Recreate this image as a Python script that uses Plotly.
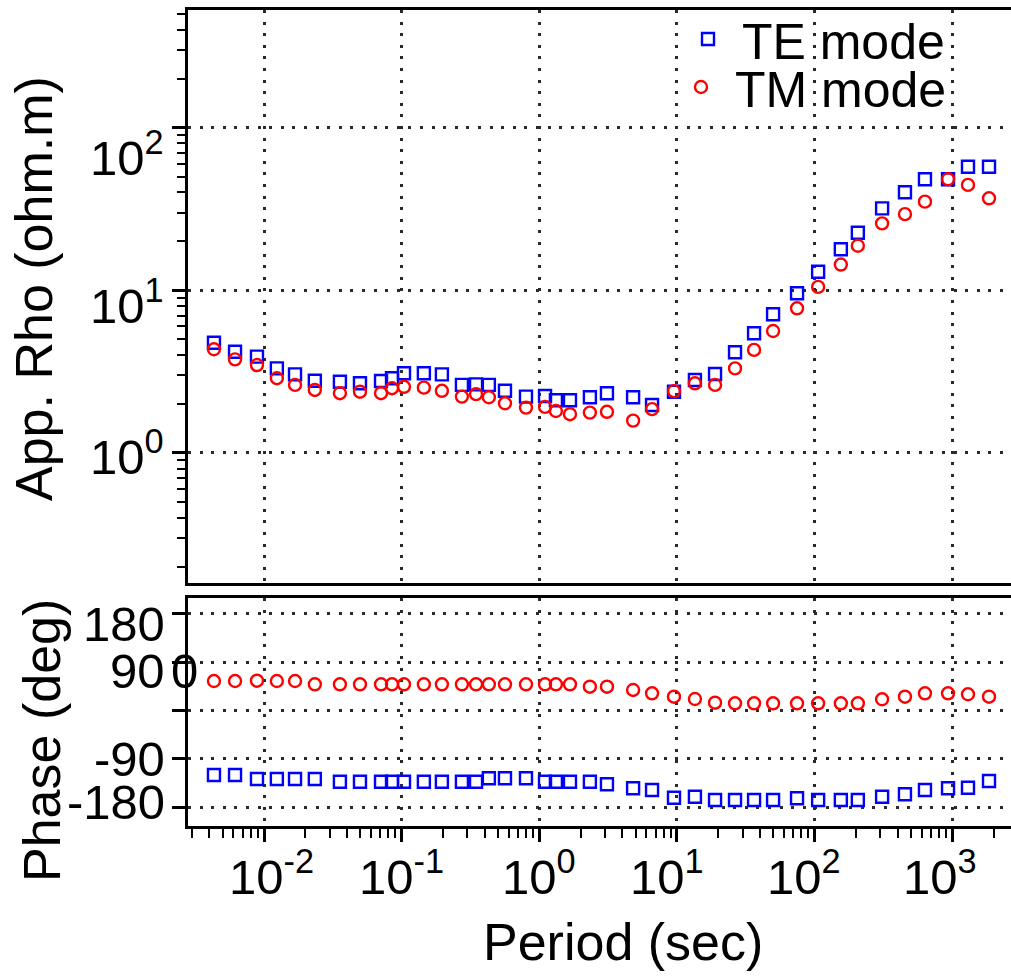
import math
import plotly.graph_objects as go

# ---------------- data ----------------
period = [0.00433, 0.00616, 0.00889, 0.0124, 0.0168, 0.0234, 0.0356, 0.0498, 0.0708, 0.0851,
          0.104, 0.145, 0.196, 0.274, 0.347, 0.430, 0.563, 0.800, 1.10, 1.32,
          1.67, 2.33, 3.10, 4.80, 6.59, 9.51, 13.5, 18.9, 26.4, 36.3,
          49.9, 74.5, 106, 155, 206, 309, 453, 633, 931, 1300, 1848]

rho_te = [4.76, 4.19, 3.91, 3.31, 3.04, 2.78, 2.74, 2.68, 2.77, 2.88,
          3.09, 3.09, 3.04, 2.62, 2.64, 2.62, 2.41, 2.22, 2.24, 2.11,
          2.11, 2.20, 2.33, 2.20, 1.97, 2.38, 2.81, 3.06, 4.16, 5.44,
          7.12, 9.59, 13.0, 17.9, 22.6, 31.9, 40.1, 48.2, 48.2, 57.5, 57.5]

rho_tm = [4.34, 3.76, 3.47, 2.88, 2.62, 2.44, 2.33, 2.38, 2.33, 2.50,
          2.55, 2.52, 2.41, 2.22, 2.30, 2.20, 2.02, 1.90, 1.92, 1.81,
          1.73, 1.77, 1.79, 1.58, 1.86, 2.40, 2.68, 2.62, 3.31, 4.30,
          5.62, 7.75, 10.5, 14.4, 18.8, 25.8, 29.4, 35.1, 48.2, 44.5, 36.8]

phase_te = [-120.1, -120.1, -127.6, -127.6, -127.6, -127.6, -132.6, -132.6, -132.6, -132.6,
            -132.6, -132.6, -132.6, -132.6, -132.6, -126.3, -126.3, -126.3, -132.6, -132.6,
            -132.6, -132.6, -137.4, -144.9, -148.0, -162.4, -160.5, -166.7, -166.7, -166.7,
            -166.7, -163.5, -166.7, -166.7, -166.7, -160.5, -156.1, -148.0, -144.9, -143.8, -131.3]

phase_tm = [54.9, 54.9, 55.5, 54.9, 54.9, 48.8, 48.8, 48.8, 48.8, 48.8,
            48.8, 48.8, 48.8, 48.8, 48.8, 48.8, 48.8, 48.8, 48.8, 48.8,
            48.8, 44.3, 44.3, 38.2, 32.0, 25.7, 21.4, 14.5, 13.4, 13.4,
            13.4, 13.4, 13.4, 13.4, 13.4, 20.9, 25.7, 32.0, 32.0, 30.2, 25.7]

x_major = [1e-2, 1e-1, 1e0, 1e1, 1e2, 1e3]
x_labels = ["10<sup>-2</sup>", "10<sup>-1</sup>", "10<sup>0</sup>",
            "10<sup>1</sup>", "10<sup>2</sup>", "10<sup>3</sup>"]
rho_major = [1, 10, 100]
rho_labels = ["10<sup>0</sup>", "10<sup>1</sup>", "10<sup>2</sup>"]
phase_major = [180, 90, 0, -90, -180]
phase_labels = ["180", "90", "0", "-90", "-180"]

# ---------------- layout geometry ----------------
W, H = 1011, 978
L, R, T, B = 188, 0, 10, 152
PW, PH = W - L - R, H - T - B


def px_x(px):
    return (px - L) / PW


def px_y(py):
    return (H - B - py) / PH


FONT = "Liberation Sans, Arial, sans-serif"
FS_TICK = 49
FS_TITLE = 52
FS_LEG = 50
BLUE = "#0000ff"
RED = "#ff0000"
GRID = dict(showgrid=True, gridcolor="#2a2a2a", gridwidth=2.5, griddash="3px,8.6px")

x_minor = [m * 10 ** k for k in range(-3, 4) for m in range(2, 10)]
rho_minor = [m * 10 ** k for k in range(-1, 3) for m in range(2, 10) if m * 10 ** k <= 500]

sq = dict(symbol="square-open", size=12, color=BLUE, line=dict(width=2.4, color=BLUE))
ci = dict(symbol="circle-open", size=12, color=RED, line=dict(width=2.4, color=RED))

fig = go.Figure()
fig.add_trace(go.Scatter(x=period, y=rho_te, mode="markers", name="\u00a0TE mode",
                         marker=sq, xaxis="x", yaxis="y", legend="legend"))
fig.add_trace(go.Scatter(x=period, y=rho_tm, mode="markers", name="\u00a0TM mode",
                         marker=ci, xaxis="x", yaxis="y", legend="legend2"))
fig.add_trace(go.Scatter(x=period, y=phase_te, mode="markers", showlegend=False,
                         marker=sq, xaxis="x2", yaxis="y2"))
fig.add_trace(go.Scatter(x=period, y=phase_tm, mode="markers", showlegend=False,
                         marker=ci, xaxis="x2", yaxis="y2"))

xr = [-2 + (L - 264) / 137.66, -2 + (W - 264) / 137.66]
top_dom = [px_y(583), 1]
bot_dom = [0, px_y(598)]

axis_common = dict(showline=True, linecolor="black", linewidth=3, zeroline=False,
                   showticklabels=False, tickcolor="black", **GRID)

fig.update_layout(
    width=W, height=H,
    margin=dict(l=L, r=R, t=T, b=B, pad=0),
    paper_bgcolor="white", plot_bgcolor="white",
    font=dict(family=FONT, size=FS_TICK, color="black"),
    xaxis=dict(type="log", range=xr, domain=[0, 1], anchor="y", mirror=True, ticks="",
               tickmode="array", tickvals=x_major, **axis_common),
    xaxis2=dict(type="log", range=xr, domain=[0, 1], anchor="y2", mirror=True, matches="x",
                ticks="outside", ticklen=13, tickwidth=2.5,
                tickmode="array", tickvals=x_major,
                minor=dict(tickmode="array", tickvals=x_minor, ticks="outside", ticklen=9,
                           tickwidth=2.2, tickcolor="black", showgrid=False),
                **axis_common),
    yaxis=dict(type="log", range=[-0.80, 2.724], domain=top_dom, anchor="x", mirror=False,
               ticks="outside", ticklen=13, tickwidth=2.5,
               tickmode="array", tickvals=rho_major,
               minor=dict(tickmode="array", tickvals=rho_minor, ticks="outside", ticklen=8,
                          tickwidth=2.2, tickcolor="black", showgrid=False),
               **axis_common),
    yaxis2=dict(range=[-215.1, 209.5], domain=bot_dom, anchor="x2", mirror=False,
                ticks="outside", ticklen=13, tickwidth=2.5,
                tickmode="array", tickvals=phase_major, **axis_common),
    legend=dict(x=px_x(688), y=px_y(39), xanchor="left", yanchor="middle",
                bgcolor="rgba(0,0,0,0)", borderwidth=0, font=dict(family=FONT, size=FS_LEG)),
    legend2=dict(x=px_x(681), y=px_y(87), xanchor="left", yanchor="middle",
                 bgcolor="rgba(0,0,0,0)", borderwidth=0, font=dict(family=FONT, size=FS_LEG)),
    showlegend=True,
)

ann = []
# rho tick labels (offsets reproduce the placement in the source picture)
rho_shift = [0, -12, -26]
for v, t, s in zip(rho_major, rho_labels, rho_shift):
    ann.append(dict(xref="paper", x=px_x(166), xanchor="right", yref="y", y=math.log10(v),
                    yanchor="middle", yshift=s, text=t, showarrow=False))
# phase tick labels
phase_shift = {"180": -10, "90": -9, "-90": 0, "-180": 5}
for v, t in zip(phase_major, phase_labels):
    if t == "0":
        ann.append(dict(xref="paper", x=px_x(169), xanchor="left", yref="y2", y=90,
                        yanchor="middle", yshift=-9, text=t, showarrow=False))
    else:
        ann.append(dict(xref="paper", x=px_x(167), xanchor="right", yref="y2", y=v,
                        yanchor="middle", yshift=phase_shift[t], text=t, showarrow=False))
# period tick labels
x_shift = [7, 0, 0, -10, -11, -12]
for v, t, s in zip(x_major, x_labels, x_shift):
    ann.append(dict(xref="x2", x=math.log10(v), xshift=s, xanchor="center",
                    yref="paper", y=px_y(873), yanchor="middle", text=t, showarrow=False))
# axis titles
title_font = dict(family=FONT, size=FS_TITLE, color="black")
ann.append(dict(xref="paper", x=px_x(34), yref="paper", y=px_y(289), xanchor="center", yanchor="middle",
                text="App. Rho (ohm.m)", textangle=-90, showarrow=False, font=title_font))
ann.append(dict(xref="paper", x=px_x(42), yref="paper", y=px_y(741), xanchor="center", yanchor="middle",
                text="Phase (deg)", textangle=-90, showarrow=False, font=title_font))
ann.append(dict(xref="paper", x=px_x(623), yref="paper", y=px_y(942), xanchor="center", yanchor="middle",
                text="Period (sec)", showarrow=False, font=title_font))

fig.update_layout(annotations=ann)
fig.write_html("out.html")
